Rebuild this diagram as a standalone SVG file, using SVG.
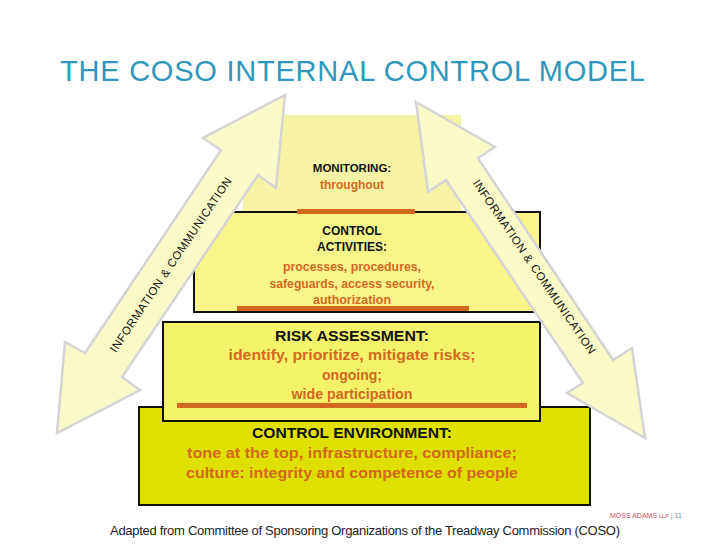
<svg xmlns="http://www.w3.org/2000/svg" width="728" height="546" viewBox="0 0 728 546">
<style>
.h{font-family:"Liberation Sans",Arial,sans-serif;fill:#111;text-anchor:middle;font-weight:bold}
.o{font-family:"Liberation Sans",Arial,sans-serif;fill:#d2691e;text-anchor:middle;font-weight:bold}
.arr{fill:#fafac8;stroke:#d4d4d4;stroke-width:2.5}
.bar{fill:#d2691e}
.box{stroke:#111;stroke-width:2}
.at{font-family:"Liberation Sans",Arial,sans-serif;font-size:11.5px;fill:#111;text-anchor:middle}
</style>
<rect width="728" height="546" fill="#fff"/>
<text x="60" y="81" font-family="Liberation Sans,Arial,sans-serif" font-size="29" fill="#2f97bb" textLength="585">THE COSO INTERNAL CONTROL MODEL</text>
<g id="monitoring">
<rect x="243" y="115" width="218" height="97" fill="#f7f3a5"/>
<text class="h" x="352" y="172" font-size="11.5">MONITORING:</text>
<text class="o" x="352" y="189" font-size="12">throughout</text>
</g>
<g id="control-activities">
<rect class="box" x="194" y="212" width="346" height="100" fill="#f8f58a"/>
<rect class="bar" x="297" y="209" width="118" height="5"/>
<text class="h" x="352" y="235" font-size="12">CONTROL</text>
<text class="h" x="352" y="251" font-size="12">ACTIVITIES:</text>
<text class="o" x="352" y="271" font-size="12" textLength="138" lengthAdjust="spacingAndGlyphs">processes, procedures,</text>
<text class="o" x="352" y="288" font-size="12" textLength="165" lengthAdjust="spacingAndGlyphs">safeguards, access security,</text>
<text class="o" x="352" y="304" font-size="12" textLength="78" lengthAdjust="spacingAndGlyphs">authorization</text>
<rect class="bar" x="237" y="306" width="232" height="5"/>
</g>
<g id="control-environment">
<rect class="box" x="139" y="407" width="451" height="98" fill="#e0e000"/>
<text class="h" x="352" y="438" font-size="15" textLength="200" lengthAdjust="spacingAndGlyphs">CONTROL ENVIRONMENT:</text>
<text class="o" x="352" y="458" font-size="15" textLength="330" lengthAdjust="spacingAndGlyphs">tone at the top, infrastructure, compliance;</text>
<text class="o" x="352" y="478" font-size="15" textLength="332" lengthAdjust="spacingAndGlyphs">culture: integrity and competence of people</text>
</g>
<g id="risk-assessment">
<rect class="box" x="163" y="322" width="377" height="99" fill="#f5f36a"/>
<text class="h" x="352" y="341" font-size="15" textLength="154" lengthAdjust="spacingAndGlyphs">RISK ASSESSMENT:</text>
<text class="o" x="352" y="360" font-size="15" textLength="247" lengthAdjust="spacingAndGlyphs">identify, prioritize, mitigate risks;</text>
<text class="o" x="352" y="380" font-size="15" textLength="60" lengthAdjust="spacingAndGlyphs">ongoing;</text>
<text class="o" x="352" y="399" font-size="15" textLength="121" lengthAdjust="spacingAndGlyphs">wide participation</text>
<rect class="bar" x="177" y="403" width="350" height="5"/>
</g>
<g id="connectors">
<g id="info-left">
<polygon class="arr" points="285,95 276,188 258,175 122,377 140,390 57,433 65,342 85,353 221,150 203,138"/>
<text class="at" transform="translate(174,267) rotate(-56)" textLength="208">INFORMATION &amp; COMMUNICATION</text>
</g>
<g id="info-right">
<polygon class="arr" points="416,102 495,147 478,158 613,360 632,348 645,438 567,393 583,383 446,180 428,192"/>
<text class="at" transform="translate(531,269) rotate(55.7)" textLength="208">INFORMATION &amp; COMMUNICATION</text>
</g>
</g>
<text x="610" y="518" font-family="Liberation Sans,Arial,sans-serif" font-size="7" fill="#d04a5a">MOSS ADAMS <tspan font-size="5.5">LLP</tspan> <tspan fill="#999">|</tspan> <tspan fill="#888">11</tspan></text>
<text x="110" y="535" font-family="Liberation Sans,Arial,sans-serif" font-size="13" fill="#222" textLength="510">Adapted from Committee of Sponsoring Organizations of the Treadway Commission (COSO)</text>
</svg>
